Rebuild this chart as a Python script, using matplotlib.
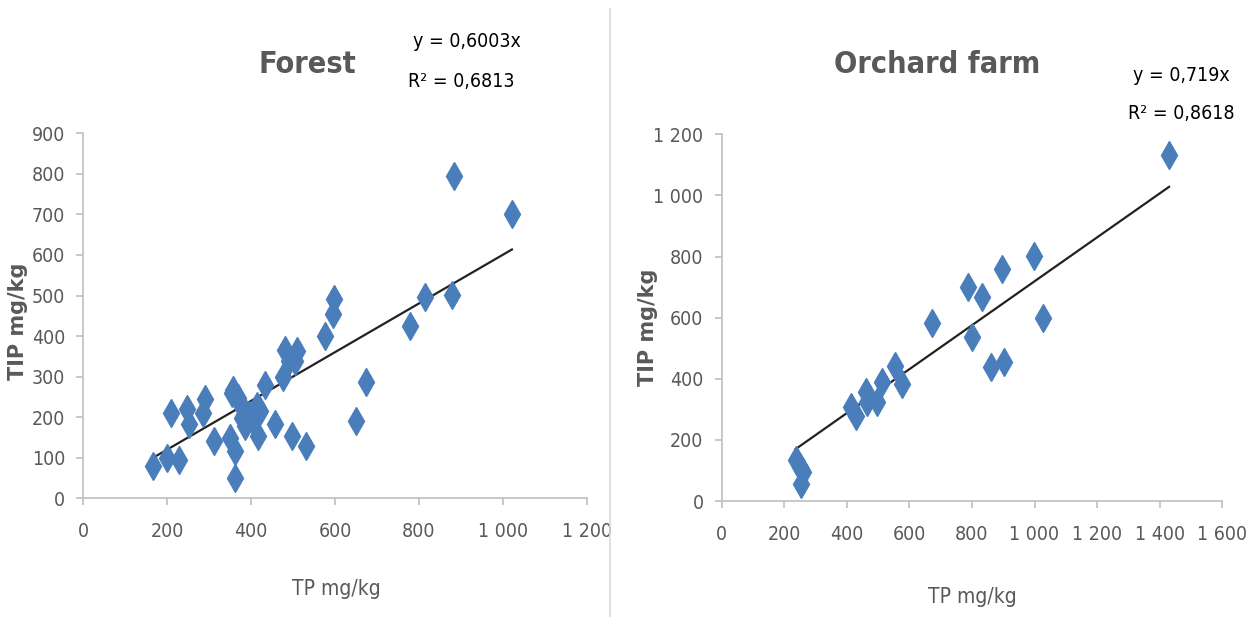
import numpy as np
import matplotlib
matplotlib.use("Agg")
import matplotlib.pyplot as plt
from matplotlib.lines import Line2D

plt.rcParams['font.family'] = ['DejaVu Sans']
plt.rcParams['font.stretch'] = 'condensed'

# Forest data (TP, TIP in mg/kg)
forest_tp = [167, 199, 229, 210, 248, 252, 290, 286, 312, 350, 354, 362, 362,
             356, 370, 378, 394, 378, 386, 405, 413, 421, 417, 433, 457, 497,
             531, 477, 481, 490, 509, 505, 577, 595, 598, 650, 675, 779, 814,
             878, 884, 1022]
forest_tip = [79, 100, 94, 211, 219, 184, 245, 211, 141, 149, 260, 116, 51,
              268, 247, 225, 206, 199, 178, 190, 227, 214, 153, 280, 182, 153,
              128, 300, 366, 338, 362, 338, 400, 454, 491, 190, 286, 426, 497,
              501, 794, 700]
forest_slope = 0.6003
forest_r2 = "0,6813"

# Orchard farm data
orchard_tp = [236, 250, 261, 252, 413, 428, 461, 463, 498, 513, 555, 575,
              673, 788, 801, 831, 860, 897, 902, 998, 1026, 1430]
orchard_tip = [134, 112, 96, 55, 309, 279, 358, 325, 325, 390, 443, 382,
               581, 701, 538, 666, 440, 759, 456, 802, 600, 1132]
orchard_slope = 0.719
orchard_r2 = "0,8618"

forest_xticks = [0, 200, 400, 600, 800, 1000, 1200]
forest_yticks = [0, 100, 200, 300, 400, 500, 600, 700, 800, 900]
orchard_xticks = [0, 200, 400, 600, 800, 1000, 1200, 1400, 1600]
orchard_yticks = [0, 200, 400, 600, 800, 1000, 1200]


def fmt(v):
    # thousands separated by a space, like the original
    return "{:,}".format(v).replace(",", " ")


blue = "#4A7EBB"
gray = "#595959"

fig = plt.figure(figsize=(12.54, 6.17), dpi=100)
ax1 = fig.add_axes([0.0664, 0.1924, 0.4014, 0.5916])
ax2 = fig.add_axes([0.5755, 0.1880, 0.3992, 0.5943])


def draw(ax, tp, tip, slope, xticks, yticks, xlab_pos, ylab_pos):
    ax.plot(tp, tip, linestyle="none", marker="d", markersize=14,
            color=blue, markeredgecolor=blue, zorder=3)
    xs = np.array([min(tp), max(tp)])
    ax.plot(xs, slope * xs, color="#222222", linewidth=1.6, zorder=2)
    ax.set_xlim(xticks[0], xticks[-1])
    ax.set_ylim(yticks[0], yticks[-1])
    ax.set_xticks(xticks)
    ax.set_xticklabels([fmt(v) for v in xticks])
    ax.set_yticks(yticks)
    ax.set_yticklabels([fmt(v) for v in yticks])
    for s in ["top", "right"]:
        ax.spines[s].set_visible(False)
    for s in ["left", "bottom"]:
        ax.spines[s].set_color("#bfbfbf")
        ax.spines[s].set_linewidth(1.2)
    ax.tick_params(axis="both", colors="#bfbfbf", labelcolor=gray,
                   labelsize=14, length=5, width=1.2)
    ax.tick_params(axis="x", pad=12)
    ax.tick_params(axis="y", pad=8)
    ax.set_xlabel("TP mg/kg", fontsize=15, color=gray)
    ax.xaxis.set_label_coords(*xlab_pos)
    ax.set_ylabel("TIP mg/kg", fontsize=15, color=gray, fontweight="bold",
                  fontstretch="normal")
    ax.yaxis.set_label_coords(*ylab_pos)


draw(ax1, forest_tp, forest_tip, forest_slope, forest_xticks, forest_yticks,
     (0.502, -0.22), (-0.11, 0.486))
draw(ax2, orchard_tp, orchard_tip, orchard_slope, orchard_xticks, orchard_yticks,
     (0.50, -0.235), (-0.128, 0.475))

fig.text(0.245, 0.895, "Forest", fontsize=22, color=gray, fontweight="bold",
         ha="center", va="center")
fig.text(0.747, 0.895, "Orchard farm", fontsize=22, color=gray, fontweight="bold",
         ha="center", va="center")

fig.text(0.372, 0.933, "y = 0,6003x", fontsize=14, color="black", ha="center", va="center")
fig.text(0.368, 0.868, "R² = " + forest_r2, fontsize=14, color="black",
         ha="center", va="center")
fig.text(0.942, 0.878, "y = 0,719x", fontsize=14, color="black", ha="center", va="center")
fig.text(0.942, 0.816, "R² = " + orchard_r2, fontsize=14, color="black",
         ha="center", va="center")

fig.add_artist(Line2D([0.4864, 0.4864], [0.0, 0.985], transform=fig.transFigure,
                      color="#d9d9d9", linewidth=1.2))

fig.savefig("out.png", dpi=100)
